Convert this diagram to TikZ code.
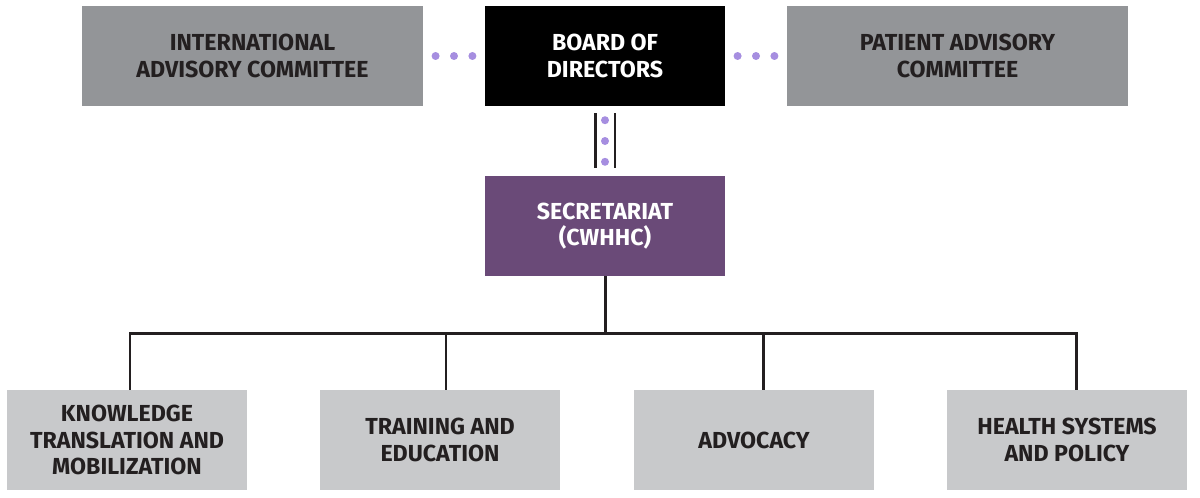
\documentclass[tikz,border=0pt]{standalone}
\usepackage{fontspec}
\setmainfont{Fira Sans}
\usepackage{tikz}
\usetikzlibrary{calc}

\definecolor{topgray}{HTML}{939598}
\definecolor{lowgray}{HTML}{C8C9CB}
\definecolor{cwhhc}{HTML}{6A4A78}
\definecolor{lilac}{HTML}{A68EE0}
\definecolor{ink}{HTML}{231F20}

\tikzset{
  unit/.style={rectangle,minimum height=2cm,inner sep=0pt,align=center,
    font=\fontsize{13.2}{14.9}\selectfont\bfseries},
  advisory/.style={unit,fill=topgray,text=ink,minimum width=6.82cm},
  board/.style={unit,fill=black,text=white,minimum width=4.8cm},
  office/.style={unit,fill=cwhhc,text=white,minimum width=4.8cm},
  program/.style={unit,fill=lowgray,text=ink,minimum width=4.8cm},
  link/.style={line width=1.7pt,ink},
  dot/.style={fill=lilac}
}

\begin{document}
\begin{tikzpicture}[x=0.02cm,y=-0.02cm]
\useasboundingbox (0,0) rectangle (1200,497);
\node (iac) at (252.5,56) [advisory] {INTERNATIONAL\\ADVISORY COMMITTEE};
\node (bod) at (605,56) [board] {BOARD OF\\DIRECTORS};
\node (pac) at (957.5,56) [advisory] {PATIENT ADVISORY\\COMMITTEE};
\node (sec) at (605,226) [office] {SECRETARIAT\\(CWHHC)};
\node (kt) at (127,440) [program] {KNOWLEDGE\\TRANSLATION AND\\MOBILIZATION};
\node (te) at (440,440) [program] {TRAINING AND\\EDUCATION};
\node (adv) at (754,440) [program] {ADVOCACY};
\node (hsp) at (1067,440) [program] {HEALTH SYSTEMS\\AND POLICY};
% dotted advisory links
\foreach \f in {0.2,0.5,0.8} {
  \fill[dot] ($(iac.east)!\f!(bod.west)$) circle (0.08cm);
  \fill[dot] ($(bod.east)!\f!(pac.west)$) circle (0.08cm);
  \fill[dot] ($(bod.south)!\f!(sec.north)$) circle (0.08cm);
}
\draw[link] ([xshift=-0.2cm,yshift=-0.14cm]bod.south) -- ([xshift=-0.2cm,yshift=0.16cm]sec.north);
\draw[link] ([xshift=0.2cm,yshift=-0.14cm]bod.south) -- ([xshift=0.2cm,yshift=0.16cm]sec.north);
% tree to programs
\draw[link] (sec.south) -- ++(0,57) coordinate (bus);
\draw[link] (bus) -| ([xshift=0.06cm]kt.north);
\draw[link] (bus) -| ([xshift=0.12cm]te.north);
\draw[link] (bus) -| ([xshift=0.18cm]adv.north);
\draw[link] (bus) -| ([xshift=0.18cm]hsp.north);
\end{tikzpicture}
\end{document}
